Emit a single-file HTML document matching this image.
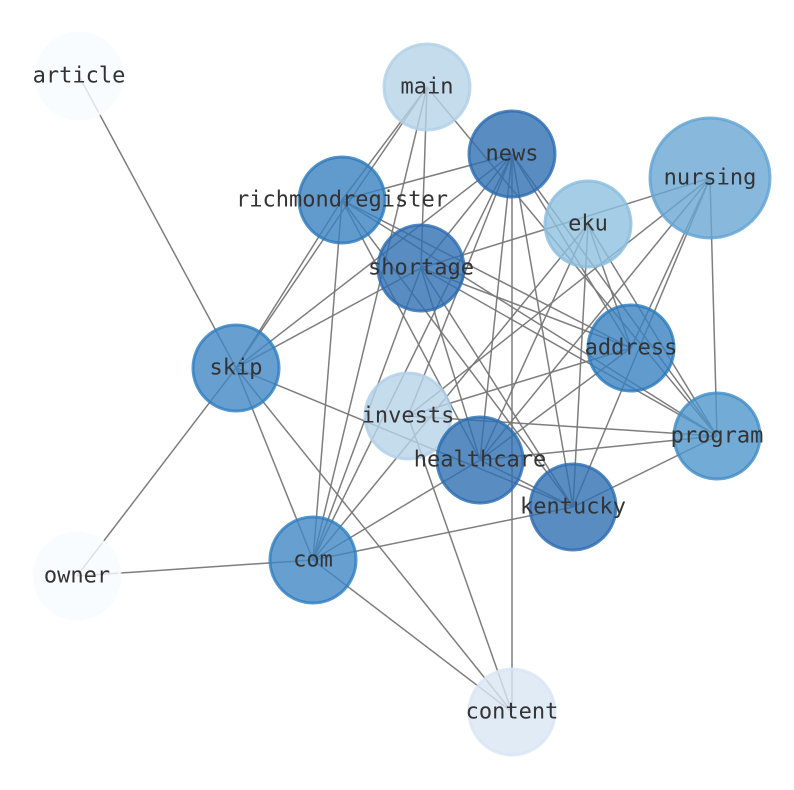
<!DOCTYPE html>
<html><head><meta charset="utf-8"><style>html,body{margin:0;padding:0;background:#fff}svg{display:block}</style></head><body>
<svg width="794" height="790" viewBox="0 0 794 790" xmlns="http://www.w3.org/2000/svg">
<g stroke="#777" stroke-width="1.5" stroke-opacity="0.95">
<line x1="79" y1="76" x2="236" y2="368"/>
<line x1="77" y1="576" x2="236" y2="368"/>
<line x1="77" y1="576" x2="313" y2="560"/>
<line x1="427" y1="87" x2="342" y2="200"/>
<line x1="427" y1="87" x2="236" y2="368"/>
<line x1="427" y1="87" x2="421" y2="268"/>
<line x1="427" y1="87" x2="313" y2="560"/>
<line x1="427" y1="87" x2="717" y2="436"/>
<line x1="512" y1="154" x2="342" y2="200"/>
<line x1="512" y1="154" x2="236" y2="368"/>
<line x1="512" y1="154" x2="421" y2="268"/>
<line x1="512" y1="154" x2="313" y2="560"/>
<line x1="512" y1="154" x2="408" y2="416"/>
<line x1="512" y1="154" x2="480" y2="460"/>
<line x1="512" y1="154" x2="512" y2="712"/>
<line x1="512" y1="154" x2="573" y2="507"/>
<line x1="512" y1="154" x2="631" y2="348"/>
<line x1="512" y1="154" x2="717" y2="436"/>
<line x1="710" y1="178" x2="421" y2="268"/>
<line x1="710" y1="178" x2="480" y2="460"/>
<line x1="710" y1="178" x2="573" y2="507"/>
<line x1="710" y1="178" x2="631" y2="348"/>
<line x1="710" y1="178" x2="717" y2="436"/>
<line x1="710" y1="178" x2="408" y2="416"/>
<line x1="342" y1="200" x2="236" y2="368"/>
<line x1="342" y1="200" x2="313" y2="560"/>
<line x1="342" y1="200" x2="480" y2="460"/>
<line x1="342" y1="200" x2="573" y2="507"/>
<line x1="342" y1="200" x2="631" y2="348"/>
<line x1="342" y1="200" x2="717" y2="436"/>
<line x1="588" y1="224" x2="313" y2="560"/>
<line x1="588" y1="224" x2="480" y2="460"/>
<line x1="588" y1="224" x2="573" y2="507"/>
<line x1="588" y1="224" x2="631" y2="348"/>
<line x1="588" y1="224" x2="717" y2="436"/>
<line x1="421" y1="268" x2="236" y2="368"/>
<line x1="421" y1="268" x2="480" y2="460"/>
<line x1="421" y1="268" x2="573" y2="507"/>
<line x1="421" y1="268" x2="631" y2="348"/>
<line x1="421" y1="268" x2="717" y2="436"/>
<line x1="421" y1="268" x2="313" y2="560"/>
<line x1="236" y1="368" x2="313" y2="560"/>
<line x1="236" y1="368" x2="512" y2="712"/>
<line x1="236" y1="368" x2="573" y2="507"/>
<line x1="480" y1="460" x2="313" y2="560"/>
<line x1="480" y1="460" x2="717" y2="436"/>
<line x1="480" y1="460" x2="631" y2="348"/>
<line x1="480" y1="460" x2="573" y2="507"/>
<line x1="573" y1="507" x2="313" y2="560"/>
<line x1="573" y1="507" x2="717" y2="436"/>
<line x1="313" y1="560" x2="512" y2="712"/>
<line x1="408" y1="416" x2="717" y2="436"/>
<line x1="408" y1="416" x2="631" y2="348"/>
<line x1="408" y1="416" x2="512" y2="712"/>
</g>
<g stroke-width="3" stroke-opacity="0.8" fill-opacity="0.8">
<circle cx="79" cy="76" r="43" fill="#f7fbff" stroke="#f7fbff"/>
<circle cx="77" cy="576" r="43" fill="#f7fbff" stroke="#f7fbff"/>
<circle cx="512" cy="712" r="43" fill="#d8e6f4" stroke="#d8e6f4"/>
<circle cx="427" cy="87" r="43" fill="#b6d3e9" stroke="#b0cfe7"/>
<circle cx="408" cy="416" r="43" fill="#b6d3e9" stroke="#b0cfe7"/>
<circle cx="588" cy="224" r="43" fill="#8fc0de" stroke="#8abddd"/>
<circle cx="710" cy="178" r="60" fill="#6aa8d4" stroke="#60a2d2"/>
<circle cx="717" cy="436" r="43" fill="#4f96cb" stroke="#3f8cc6"/>
<circle cx="236" cy="368" r="43" fill="#4087c4" stroke="#2e7ec0"/>
<circle cx="313" cy="560" r="43" fill="#4087c4" stroke="#2e7ec0"/>
<circle cx="342" cy="200" r="43" fill="#3a82c1" stroke="#2a79bc"/>
<circle cx="631" cy="348" r="43" fill="#3a82c1" stroke="#2a79bc"/>
<circle cx="421" cy="268" r="43" fill="#3071b3" stroke="#2a6bb0"/>
<circle cx="512" cy="154" r="43" fill="#3071b3" stroke="#2a6bb0"/>
<circle cx="480" cy="460" r="43" fill="#3071b3" stroke="#2a6bb0"/>
<circle cx="573" cy="507" r="43" fill="#3071b3" stroke="#2a6bb0"/>
</g>
<g font-family="'DejaVu Sans Mono','Liberation Mono',monospace" font-size="22" fill="#333" text-anchor="middle" dominant-baseline="central">
<text x="79" y="76">article</text>
<text x="77" y="576">owner</text>
<text x="512" y="712">content</text>
<text x="427" y="87">main</text>
<text x="408" y="416">invests</text>
<text x="588" y="224">eku</text>
<text x="710" y="178">nursing</text>
<text x="717" y="436">program</text>
<text x="236" y="368">skip</text>
<text x="313" y="560">com</text>
<text x="342" y="200">richmondregister</text>
<text x="631" y="348">address</text>
<text x="421" y="268">shortage</text>
<text x="512" y="154">news</text>
<text x="480" y="460">healthcare</text>
<text x="573" y="507">kentucky</text>
</g>
</svg>
</body></html>
